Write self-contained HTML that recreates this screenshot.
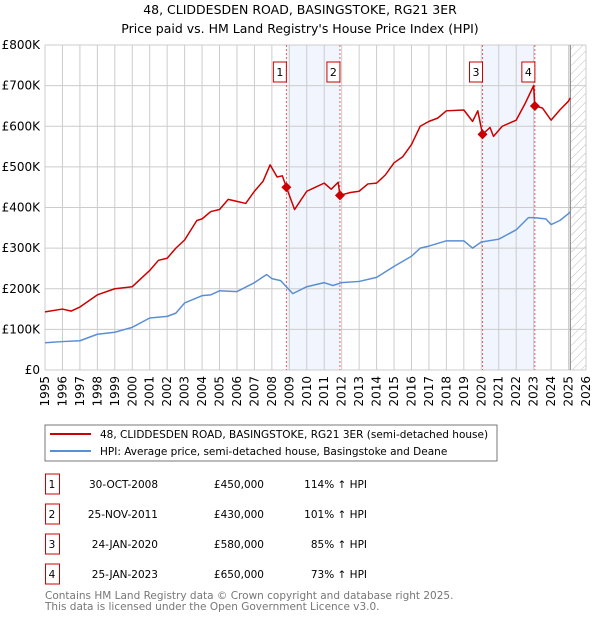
<!DOCTYPE html>
<html><head><meta charset="utf-8"><style>
body{margin:0;background:#fff;font-family:"Liberation Sans","DejaVu Sans",sans-serif;}
svg text{font-family:"DejaVu Sans","Liberation Sans",sans-serif;}
</style></head><body>
<svg id="c" width="600" height="620" xmlns="http://www.w3.org/2000/svg">
<text x="300" y="14" font-size="12.5" text-anchor="middle">48, CLIDDESDEN ROAD, BASINGSTOKE, RG21 3ER</text>
<text x="300" y="33" font-size="12.5" text-anchor="middle">Price paid vs. HM Land Registry's House Price Index (HPI)</text>
<g id="grid"></g><g id="marks"></g>
<rect x="45" y="425" width="452" height="36" fill="#fff" stroke="#777"/>
<line x1="50" y1="434" x2="91" y2="434" stroke="#cc0000" stroke-width="2"/>
<text x="100" y="438" font-size="10.5">48, CLIDDESDEN ROAD, BASINGSTOKE, RG21 3ER (semi-detached house)</text>
<line x1="50" y1="451" x2="91" y2="451" stroke="#5b8fd4" stroke-width="2"/>
<text x="100" y="455" font-size="10.5">HPI: Average price, semi-detached house, Basingstoke and Deane</text>
<g id="tbl" font-size="10.5"></g>
<text x="45" y="599" font-size="10.5" fill="#777">Contains HM Land Registry data © Crown copyright and database right 2025.</text>
<text x="45" y="610" font-size="10.5" fill="#777">This data is licensed under the Open Government Licence v3.0.</text>
</svg>
<script>
const hpiYears=[1995,1996,1997,1998,1999,2000,2001,2002,2002.5,2003,2004,2004.5,2005,2006,2007,2007.7,2008,2008.5,2009.2,2010,2011,2011.5,2012,2013,2014,2015,2016,2016.5,2017,2018,2019,2019.5,2020,2021,2022,2022.7,2023,2023.7,2024,2024.5,2025,2025.1];
const hpiValues=[67,70,72,88,93,105,128,132,140,165,183,185,195,193,215,235,225,220,188,205,215,208,215,218,228,255,280,300,305,318,318,300,315,322,345,375,375,372,358,368,385,390];
const priceYears=[1995,1996,1996.5,1997,1998,1999,2000,2000.5,2001,2001.5,2002,2002.5,2003,2003.7,2004,2004.5,2005,2005.5,2006,2006.5,2007,2007.5,2007.9,2008.3,2008.6,2008.83,2009.3,2010,2010.5,2011,2011.4,2011.8,2011.9,2012.5,2013,2013.5,2014,2014.5,2015,2015.5,2016,2016.5,2017,2017.5,2018,2019,2019.5,2019.8,2020.07,2020.5,2020.7,2021.2,2022,2022.5,2023,2023.07,2023.5,2024,2024.5,2025,2025.1];
const priceValues=[143,150,145,155,185,200,205,225,245,270,275,300,320,368,372,390,395,420,415,410,440,465,505,475,478,450,395,440,450,460,445,462,430,437,440,458,460,480,510,525,555,600,612,620,638,640,612,638,580,597,575,600,615,655,700,650,645,615,640,662,670];
const saleYears=[2008.83,2011.9,2020.07,2023.07];
const saleValues=[450,430,580,650];
const saleLabels=["1","2","3","4"];
const saleDates=["30-OCT-2008","25-NOV-2011","24-JAN-2020","25-JAN-2023"];
const salePrices=["£450,000","£430,000","£580,000","£650,000"];
const saleHpi=["114% ↑ HPI","101% ↑ HPI","85% ↑ HPI","73% ↑ HPI"];
const yTicks=[0,100,200,300,400,500,600,700,800];
const yTickLabels=["£0","£100K","£200K","£300K","£400K","£500K","£600K","£700K","£800K"];
const xTicks=[1995,1996,1997,1998,1999,2000,2001,2002,2003,2004,2005,2006,2007,2008,2009,2010,2011,2012,2013,2014,2015,2016,2017,2018,2019,2020,2021,2022,2023,2024,2025,2026];

const X0=45,X1=586,Y0=370,Y1=45;
const x=v=>X0+(v-1995)/(2026-1995)*(X1-X0);
const y=v=>Y0-v/800*(Y0-Y1);
const NS="http://www.w3.org/2000/svg";
function mk(p,t,a){const e=document.createElementNS(NS,t);for(const k in a)e.setAttribute(k,a[k]);p.appendChild(e);return e;}
const g=document.getElementById('grid'),m=document.getElementById('marks');
// shading
[[0,1],[2,3]].forEach(([a,b],i)=>{
 const r=mk(g,'rect',{x:x(saleYears[a]),y:Y1,width:x(saleYears[b])-x(saleYears[a]),height:Y0-Y1,fill:'#eef3fc',opacity:0.8});
 
 
});
const hatch=mk(g,'defs',{});
hatch.innerHTML='<pattern id="h" width="6" height="6" patternUnits="userSpaceOnUse" patternTransform="rotate(45)"><line x1="0" y1="0" x2="0" y2="6" stroke="#bbb" stroke-width="1"/></pattern>';
const hr=mk(g,'rect',{x:x(2025.15),y:Y1,width:X1-x(2025.15),height:Y0-Y1,fill:'url(#h)'});


yTicks.forEach((t,i)=>{
 const l=mk(g,'line',{x1:X0,x2:X1,y1:y(t),y2:y(t),stroke:'#ccc'});
 
 
 const tx=mk(g,'text',{x:X0-5,y:y(t)+4,'font-size':12,'text-anchor':'end'});tx.textContent=yTickLabels[i];
 
 
});
xTicks.forEach(t=>{
 const l=mk(g,'line',{x1:x(t),x2:x(t),y1:Y1,y2:Y0,stroke:'#ccc'});
 
 
 const tx=mk(g,'text',{x:0,y:0,'font-size':12,'text-anchor':'end',transform:`translate(${x(t)+4},${Y0+6}) rotate(-90)`});tx.textContent=t;
 
 
});
mk(g,'line',{x1:x(2025.1),x2:x(2025.1),y1:Y1,y2:Y0,stroke:'#777'});
saleYears.forEach((s,i)=>{
 const l=mk(g,'line',{x1:x(s),x2:x(s),y1:Y1,y2:Y0,stroke:'#e04040','stroke-dasharray':'2,2','stroke-width':0.8});
 
 
 const bx=x(s)-13;
 const r=mk(g,'rect',{x:bx,y:62,width:13,height:20,fill:'#fff',stroke:'#cc0000'});
 
 
 const t=mk(g,'text',{x:bx+6.5,y:76,'font-size':11,'text-anchor':'middle'});t.textContent=saleLabels[i];
 
 
});
function line(xs,vs,col,name){
 const p=mk(m,'polyline',{points:xs.map((v,i)=>x(v)+','+y(vs[i])).join(' '),fill:'none',stroke:col,'stroke-width':1.5,'stroke-linejoin':'round'});
 
 
}
line(hpiYears,hpiValues,'#5b8fd4','hpi-line');
line(priceYears,priceValues,'#cc0000','price-line');
saleYears.forEach((s,i)=>{
 const c=mk(m,'path',{d:`M${x(s)},${y(saleValues[i])-5}l5,5l-5,5l-5,-5z`,fill:'#cc0000'});
 
 
});
const tb=document.getElementById('tbl');
saleLabels.forEach((l,i)=>{
 const yy=474+i*30;
 const r=mk(tb,'rect',{x:45.5,y:yy,width:14,height:20,fill:'#fff',stroke:'#cc0000'});
 
 
 const cells=[[52,l,'middle'],[158,saleDates[i],'end'],[264,salePrices[i],'end'],[367,saleHpi[i],'end']];
 cells.forEach(([cx,txt,an])=>{
  const t=mk(tb,'text',{x:cx,y:yy+14,'text-anchor':an});t.textContent=txt;
  
  
 });
});
</script>
</body></html>
